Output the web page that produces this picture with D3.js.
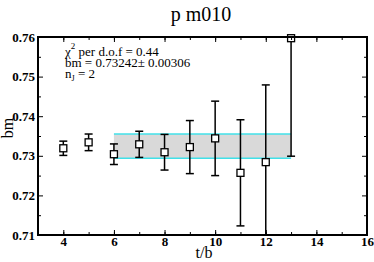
<!DOCTYPE html>
<html>
<head>
<script src="https://d3js.org/d3.v7.min.js"></script>
<style>
body { margin: 0; background: #fff; }
text { font-family: "Liberation Serif", "DejaVu Serif", serif; }
</style>
</head>
<body>
<svg width="374" height="262"></svg>
<script>
// data
var tVals  = [4, 5, 6, 7, 8, 9, 10, 11, 12, 13];
var bmVals = [0.7319, 0.7334, 0.7304, 0.7329, 0.7309, 0.7322, 0.7344, 0.7257, 0.7284, 0.7597];
var bmErrs = [0.0018, 0.0021, 0.0026, 0.0033, 0.0045, 0.0067, 0.0094, 0.0134, 0.0195, 0.0298];
var fitRange = [6, 13];
var fitVal = 0.73242, fitErr = 0.00306;
var xTicks = [4, 6, 8, 10, 12, 14, 16];
var yTicks = [0.71, 0.72, 0.73, 0.74, 0.75, 0.76];

var svg = d3.select("svg");
var L = 38, R = 367, T = 37, B = 235;
var x = d3.scaleLinear().domain([3, 16]).range([L, R]);
var y = d3.scaleLinear().domain([0.71, 0.76]).range([B, T]);

svg.append("defs").append("clipPath").attr("id", "clip")
  .append("rect").attr("x", L).attr("y", T).attr("width", R - L).attr("height", B - T);

// fit band
var g = svg.append("g").attr("clip-path", "url(#clip)");
g.append("rect")
  .attr("x", x(fitRange[0])).attr("width", x(fitRange[1]) - x(fitRange[0]))
  .attr("y", y(fitVal + fitErr)).attr("height", y(fitVal - fitErr) - y(fitVal + fitErr))
  .attr("fill", "#d9d9d9");
[fitVal + fitErr, fitVal - fitErr].forEach(function(v) {
  g.append("line")
    .attr("x1", x(fitRange[0])).attr("x2", x(fitRange[1]))
    .attr("y1", y(v)).attr("y2", y(v))
    .attr("stroke", "#40e0e8").attr("stroke-width", 1.5);
});

// error bars
var pts = tVals.map(function(t, i) { return {t: t, v: bmVals[i], e: bmErrs[i]}; });
var eb = g.selectAll(".eb").data(pts).enter().append("g");
eb.append("line")
  .attr("x1", function(d) { return x(d.t); }).attr("x2", function(d) { return x(d.t); })
  .attr("y1", function(d) { return y(d.v + d.e); }).attr("y2", function(d) { return y(d.v - d.e); })
  .attr("stroke", "#000").attr("stroke-width", 1.5);
[1, -1].forEach(function(s) {
  eb.append("line")
    .attr("x1", function(d) { return x(d.t) - 4; }).attr("x2", function(d) { return x(d.t) + 4; })
    .attr("y1", function(d) { return y(d.v + s * d.e); }).attr("y2", function(d) { return y(d.v + s * d.e); })
    .attr("stroke", "#000").attr("stroke-width", 1.5);
});
svg.selectAll(".pt").data(pts).enter().append("rect")
  .attr("x", function(d) { return x(d.t) - 3.5; })
  .attr("y", function(d) { return y(d.v) - 3.5; })
  .attr("width", 7).attr("height", 7)
  .attr("fill", "#fff").attr("stroke", "#000").attr("stroke-width", 1.3);

// axes, ticks inward
function ax(gen, tr, vals, size, labels) {
  var a = svg.append("g").attr("transform", tr)
    .call(gen.tickValues(vals).tickSize(size).tickSizeOuter(0)
      .tickFormat(labels ? labels : ""));
  a.select(".domain").remove();
  a.selectAll("line").attr("stroke", "#000");
  a.attr("font-family", null);
  return a;
}
var xMinor = d3.range(4, 16, 1), yMinor = d3.range(0.715, 0.76, 0.01);
var fmtY = d3.format(".2f");
var xb = ax(d3.axisBottom(x), "translate(0," + B + ")", xTicks, -5, d3.format("d"));
xb.selectAll("text").attr("y", 2).attr("font-size", 13).attr("font-weight", "bold")
  .style("font-family", "'Liberation Serif', serif");
ax(d3.axisBottom(x), "translate(0," + B + ")", xMinor, -3);
ax(d3.axisTop(x), "translate(0," + T + ")", xTicks, -5);
ax(d3.axisTop(x), "translate(0," + T + ")", xMinor, -3);
var yl = ax(d3.axisLeft(y), "translate(" + L + ",0)", yTicks, -5, fmtY);
yl.selectAll("text").attr("x", -3).attr("font-size", 13).attr("font-weight", "bold")
  .style("font-family", "'Liberation Serif', serif");
ax(d3.axisLeft(y), "translate(" + L + ",0)", yMinor, -3);
ax(d3.axisRight(y), "translate(" + R + ",0)", yTicks, -5);
ax(d3.axisRight(y), "translate(" + R + ",0)", yMinor, -3);

// frame
svg.append("rect").attr("x", L).attr("y", T).attr("width", R - L).attr("height", B - T)
  .attr("fill", "none").attr("stroke", "#000").attr("stroke-width", 2);

// titles
svg.append("text").attr("x", 201).attr("y", 21).attr("text-anchor", "middle")
  .attr("font-size", 20).text("p m010");
svg.append("text").attr("x", 204).attr("y", 258).attr("text-anchor", "middle")
  .attr("font-size", 16).text("t/b");
svg.append("text").attr("transform", "translate(13,128) rotate(-90)")
  .attr("text-anchor", "middle").attr("font-size", 16).text("bm");

// annotation
var ann = svg.append("text").attr("font-size", 13);
ann.append("tspan").attr("x", 65).attr("y", 56).text("\u03c7");
ann.append("tspan").attr("dy", -7).attr("font-size", 9).text("2");
ann.append("tspan").attr("dy", 7).text(" per d.o.f = 0.44");
svg.append("text").attr("x", 65).attr("y", 67).attr("font-size", 13)
  .text("bm = 0.73242\u00b1 0.00306");
var nj = svg.append("text").attr("x", 65).attr("y", 78).attr("font-size", 13);
nj.append("tspan").text("n");
nj.append("tspan").attr("dy", 3).attr("font-size", 8).text("J");
nj.append("tspan").attr("dy", -3).text(" = 2");
</script>
</body>
</html>
